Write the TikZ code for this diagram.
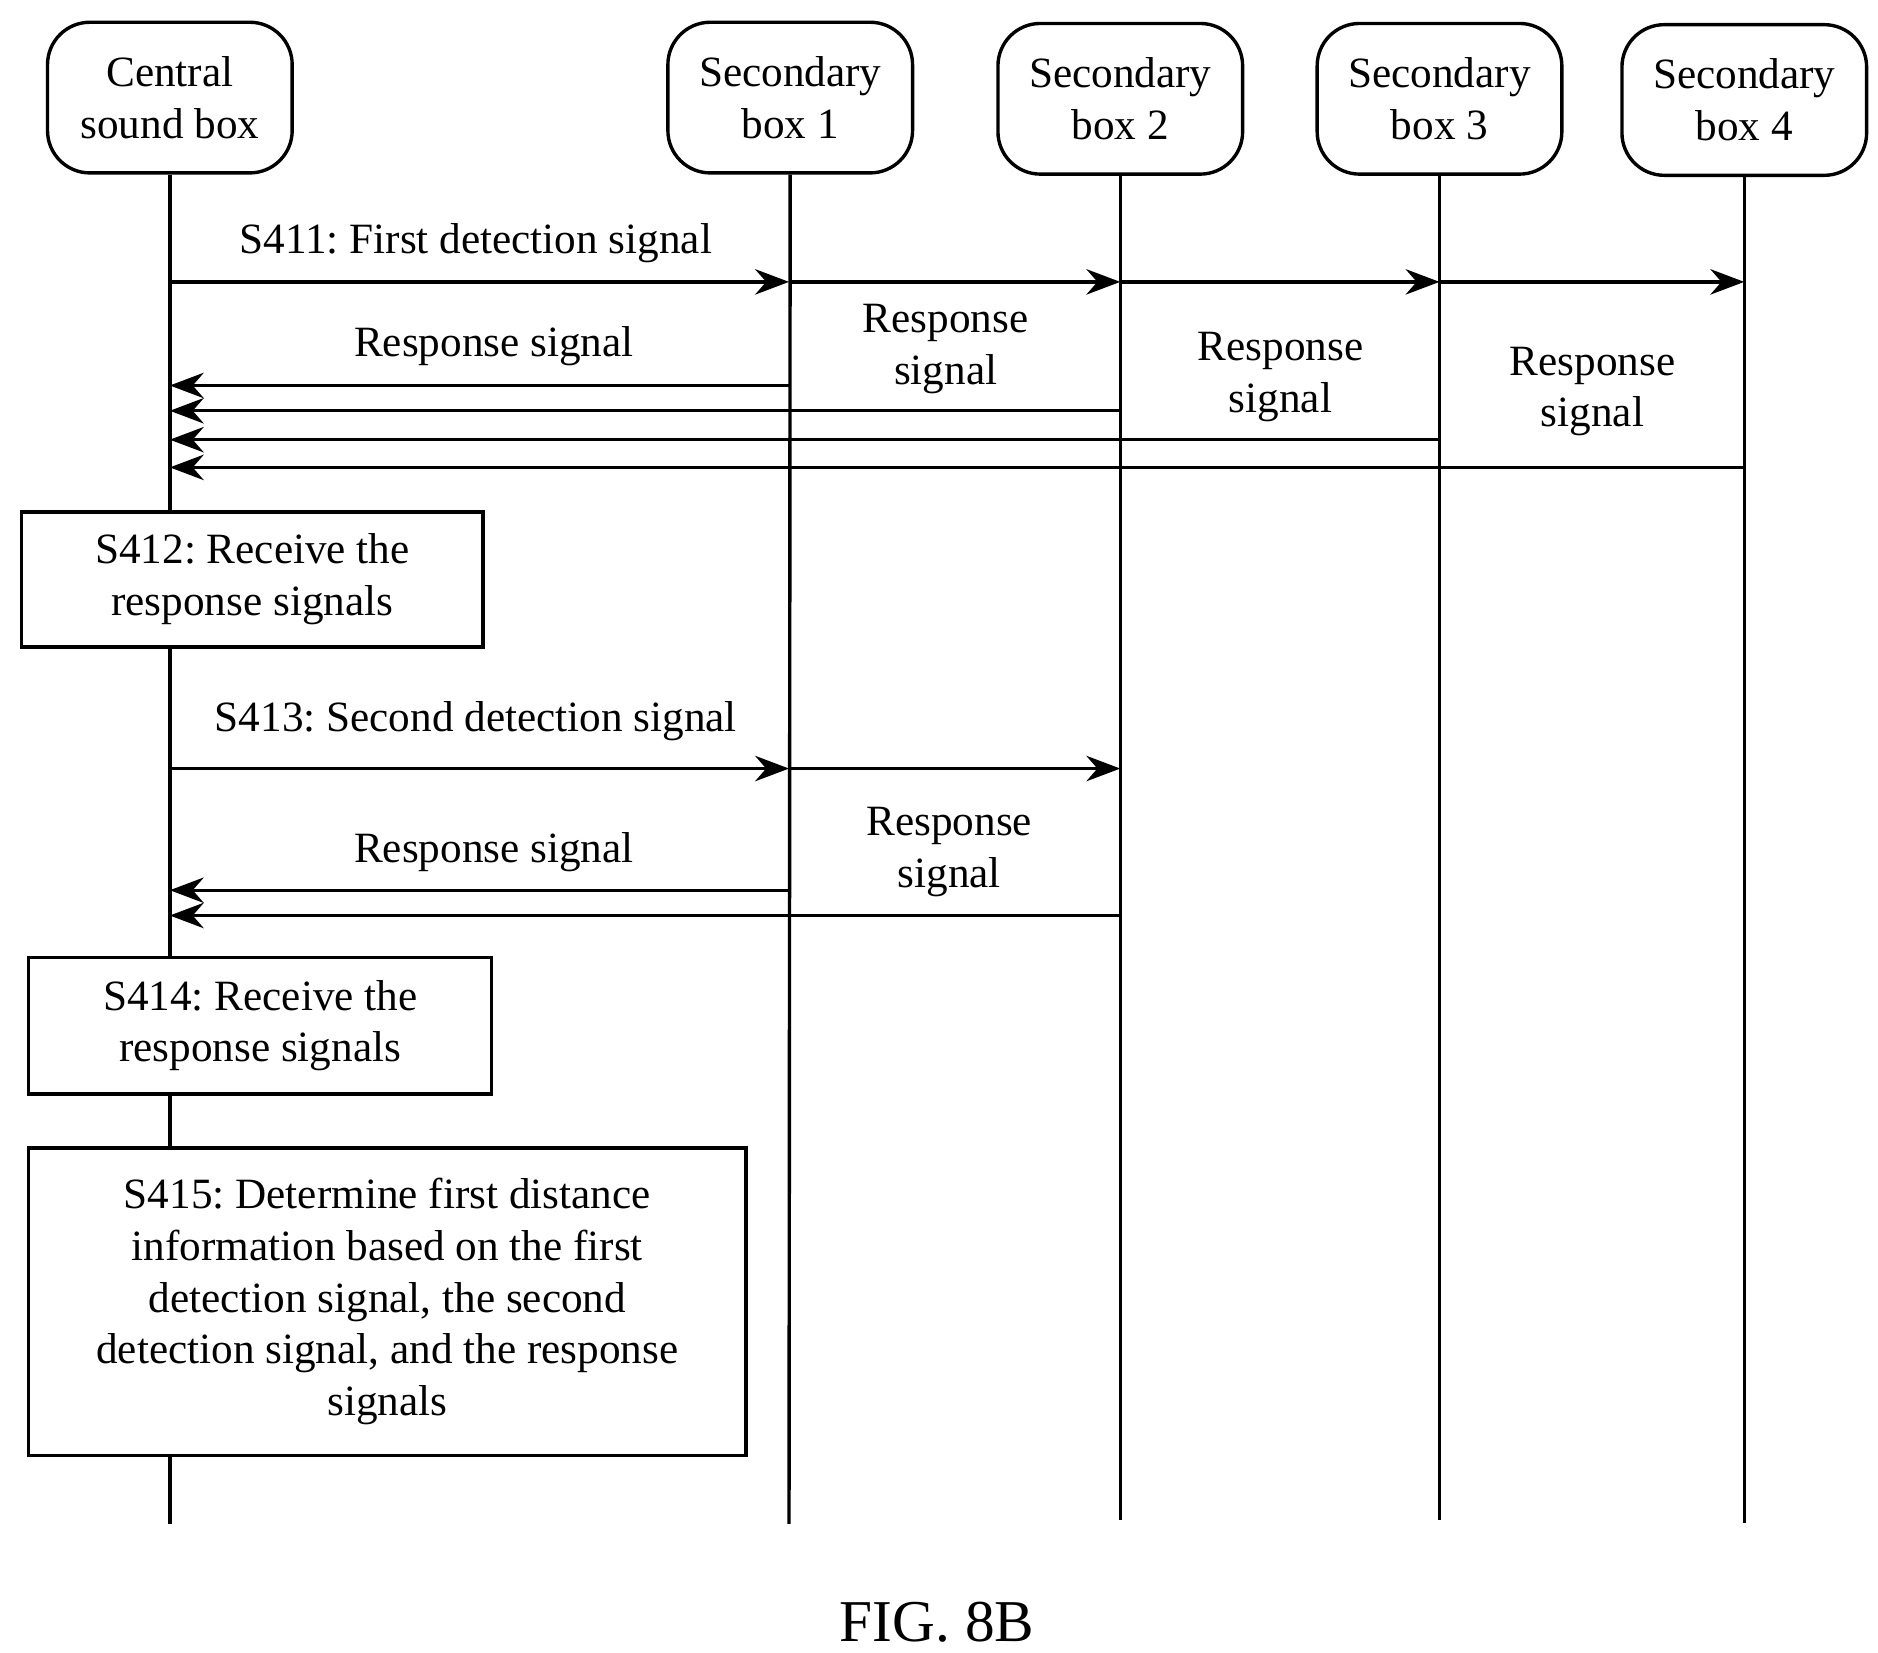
\documentclass[tikz,border=0pt]{standalone}
\usepackage{fontspec}
\setmainfont{Liberation Serif}
\usetikzlibrary{arrows.meta}
\frenchspacing
\begin{document}
\begin{tikzpicture}[
x=0.01cm, y=-0.01cm,
>={Stealth[length=8pt,width=6pt]},
font=\fontsize{10.2}{12.2}\selectfont,
head/.style={draw, line width=0.8pt, rounded corners=10pt, minimum width=2.03cm, minimum height=1.25cm, align=center, inner sep=0pt},
stepbox/.style={draw, fill=white, line width=0.8pt, align=center, inner sep=0pt},
life/.style={line width=0.8pt},
arrow/.style={draw, line width=0.8pt, ->},
lbl/.style={align=center, inner sep=0pt}
]
\useasboundingbox (0,0) rectangle (1559,1372);

\node[head] (central) at (141,81) {Central\\sound box};
\node[head] (sec1) at (656,81) {Secondary\\box 1};
\node[head] (sec2) at (930,82) {Secondary\\box 2};
\node[head] (sec3) at (1195,82) {Secondary\\box 3};
\node[head] (sec4) at (1448,83) {Secondary\\box 4};

\coordinate (cend) at (141,1265);
\coordinate (s1end) at (655,1265);
\coordinate (s2end) at (930,1262);
\coordinate (s3end) at (1195,1262);
\coordinate (s4end) at (1448,1264);

\draw[life] (central) -- (cend);
\draw[life] (sec1) -- (s1end);
\draw[life] (sec2) -- (s2end);
\draw[life] (sec3) -- (s3end);
\draw[life] (sec4) -- (s4end);

% first detection round
\foreach \n/\x in {a/141,b/655,c/930,d/1195,e/1448}
  \coordinate (d1\n) at (\x,234);
\path[arrow] (d1a) -- (d1b);
\path[arrow] (d1b) -- (d1c);
\path[arrow] (d1c) -- (d1d);
\path[arrow] (d1d) -- (d1e);
\node[lbl] (s411) at (395,202) {S411: First detection signal};

\foreach \n/\x/\y in {b/655/320,c/930/341,d/1195/365,e/1448/388} {
  \coordinate (r1\n) at (\x,\y);
  \coordinate (r1a\n) at (141,\y);
  \path[arrow] (r1\n) -- (r1a\n);
}
\node[lbl] (resp1) at (410,287) {Response signal};
\node[lbl] (resp2) at (785,290) {Response\\signal};
\node[lbl] (resp3) at (1063,313) {Response\\signal};
\node[lbl] (resp4) at (1322,325) {Response\\signal};

\node[stepbox, minimum width=3.83cm, minimum height=1.12cm] (s412) at (209.5,481) {S412: Receive the\\response signals};

% second detection round
\foreach \n/\x in {a/141,b/655,c/930}
  \coordinate (d2\n) at (\x,638);
\path[arrow] (d2a) -- (d2b);
\path[arrow] (d2b) -- (d2c);
\node[lbl] (s413) at (395,599) {S413: Second detection signal};

\foreach \n/\x/\y in {b/655/739,c/930/760} {
  \coordinate (r2\n) at (\x,\y);
  \coordinate (r2a\n) at (141,\y);
  \path[arrow] (r2\n) -- (r2a\n);
}
\node[lbl] (resp5) at (410,707) {Response signal};
\node[lbl] (resp6) at (788,707) {Response\\signal};

\node[stepbox, minimum width=3.84cm, minimum height=1.13cm] (s414) at (216,851.5) {S414: Receive the\\response signals};
\node[stepbox, minimum width=5.95cm, minimum height=2.55cm] (s415) at (321.5,1080.5) {S415: Determine first distance\\information based on the first\\detection signal, the second\\detection signal, and the response\\signals};

\node[lbl, font=\fontsize{14}{16}\selectfont] (fig) at (778,1347) {FIG. 8B};
\end{tikzpicture}
\end{document}
